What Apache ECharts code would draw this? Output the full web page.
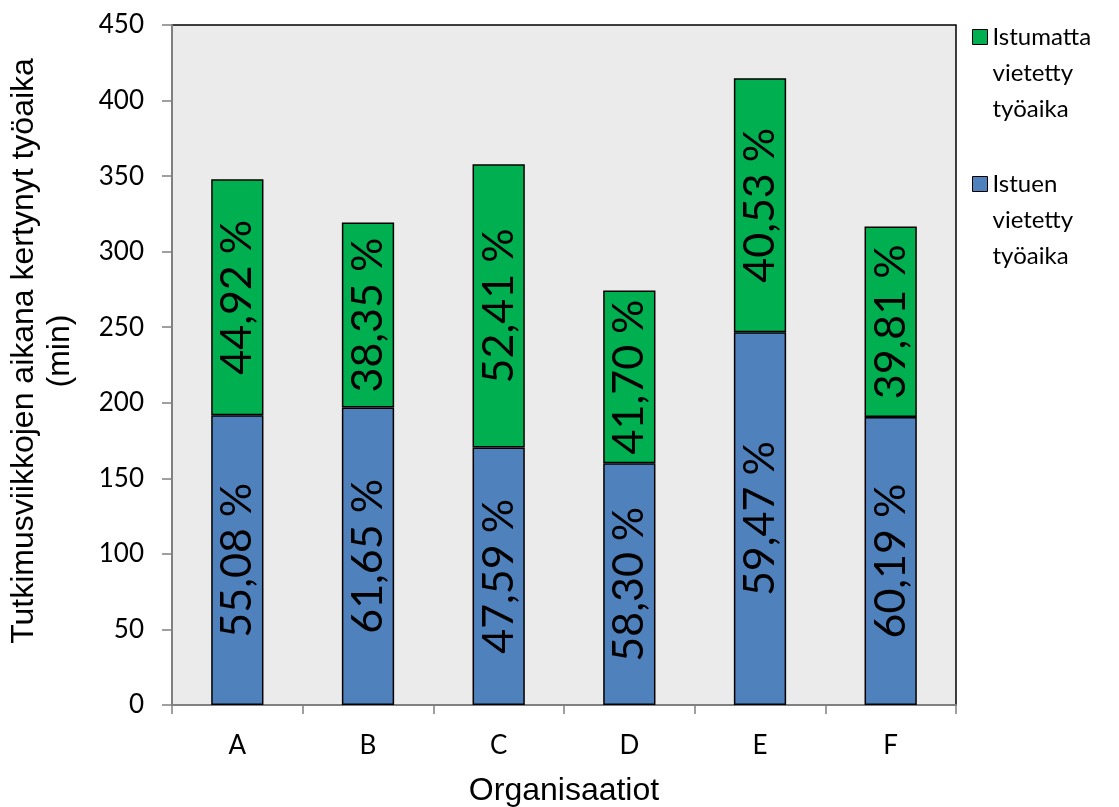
<!DOCTYPE html>
<html>
<head>
<meta charset="utf-8">
<script src="https://cdn.jsdelivr.net/npm/echarts@6/dist/echarts.min.js"></script>
<style>
  html, body { margin: 0; padding: 0; background: #ffffff; }
  #chart { width: 1119px; height: 807px; }
</style>
</head>
<body>
<div id="chart"></div>
<script>
// Organisations on the category axis
const categories = ['A', 'B', 'C', 'D', 'E', 'F'];
// Total working time accumulated during the study weeks (min)
const totalMinutes = [348.0, 319.3, 357.9, 274.3, 414.8, 316.6];
// Share of working time spent sitting (%)
const sittingPct = [55.08, 61.65, 47.59, 58.30, 59.47, 60.19];
// Share of working time spent not sitting (%)
const standingPct = [44.92, 38.35, 52.41, 41.70, 40.53, 39.81];
// Value axis ticks
const yMin = 0, yMax = 450, yStep = 50;

const seriesNames = ['Istuen vietetty työaika', 'Istumatta vietetty työaika'];

const sittingMinutes = totalMinutes.map((t, i) => t * sittingPct[i] / 100);
const standingMinutes = totalMinutes.map((t, i) => t * standingPct[i] / 100);

const fmtPct = v => v.toFixed(2).replace('.', ',') + ' %';

const labelFont = 'Lato, "Noto Sans", sans-serif';
const titleFont = '"Liberation Sans", Arial, sans-serif';

const chart = echarts.init(document.getElementById('chart'), null, { renderer: 'canvas' });

function barLabel(pcts) {
  return {
    show: true,
    position: 'inside',
    rotate: 90,
    align: 'center',
    verticalAlign: 'middle',
    fontFamily: labelFont,
    fontSize: 43,
    color: '#000',
    formatter: p => fmtPct(pcts[p.dataIndex])
  };
}

chart.setOption({
  animation: false,
  backgroundColor: '#ffffff',
  grid: {
    left: 172, right: 163, top: 25, bottom: 102,
    outerBoundsMode: 'none',
    containLabel: false,
    show: true,
    backgroundColor: '#EBEBEB',
    borderColor: '#000',
    borderWidth: 1.5
  },
  legend: {
    orient: 'vertical',
    left: 967,
    top: -58,
    itemWidth: 15,
    itemHeight: 15,
    itemGap: -33,
    selectedMode: false,
    icon: 'rect',
    data: [seriesNames[1], seriesNames[0]],
    // two blank lines first so the icon sits beside the first word
    formatter: name => '\n\n' + name.split(' ').join('\n'),
    itemStyle: { borderColor: '#000', borderWidth: 1 },
    textStyle: {
      fontFamily: labelFont,
      fontSize: 24,
      lineHeight: 36,
      color: '#000'
    }
  },
  xAxis: {
    type: 'category',
    data: categories,
    name: 'Organisaatiot',
    nameLocation: 'middle',
    nameGap: 70,
    nameTextStyle: { fontFamily: titleFont, fontSize: 32, color: '#000' },
    axisLine: { show: true, lineStyle: { color: '#808080', width: 2 } },
    axisTick: { show: true, length: 9, alignWithLabel: false, lineStyle: { color: '#808080', width: 1.5 } },
    axisLabel: { fontFamily: labelFont, fontSize: 26, color: '#000', margin: 28 },
    splitLine: { show: false }
  },
  yAxis: {
    type: 'value',
    min: yMin, max: yMax, interval: yStep,
    name: 'Tutkimusviikkojen aikana kertynyt työaika\n(min)',
    nameLocation: 'middle',
    nameRotate: 90,
    nameGap: 94,
    nameTextStyle: {
      fontFamily: titleFont, fontSize: 32, color: '#000', lineHeight: 36, align: 'center',
      padding: [0, 0, 0, 28]
    },
    axisLine: { show: true, lineStyle: { color: '#808080', width: 2 } },
    axisTick: { show: true, length: 10, lineStyle: { color: '#808080', width: 1.5 } },
    axisLabel: { fontFamily: labelFont, fontSize: 26, color: '#000', margin: 28 },
    splitLine: { show: false }
  },
  series: [
    {
      name: seriesNames[0],
      type: 'bar',
      stack: 'time',
      barWidth: '40%',
      data: sittingMinutes,
      itemStyle: { color: '#4F81BD', borderColor: '#000', borderWidth: 1.5 },
      label: barLabel(sittingPct)
    },
    {
      name: seriesNames[1],
      type: 'bar',
      stack: 'time',
      barWidth: '40%',
      data: standingMinutes,
      itemStyle: { color: '#00B050', borderColor: '#000', borderWidth: 1.5 },
      label: barLabel(standingPct)
    }
  ]
});
</script>
</body>
</html>
